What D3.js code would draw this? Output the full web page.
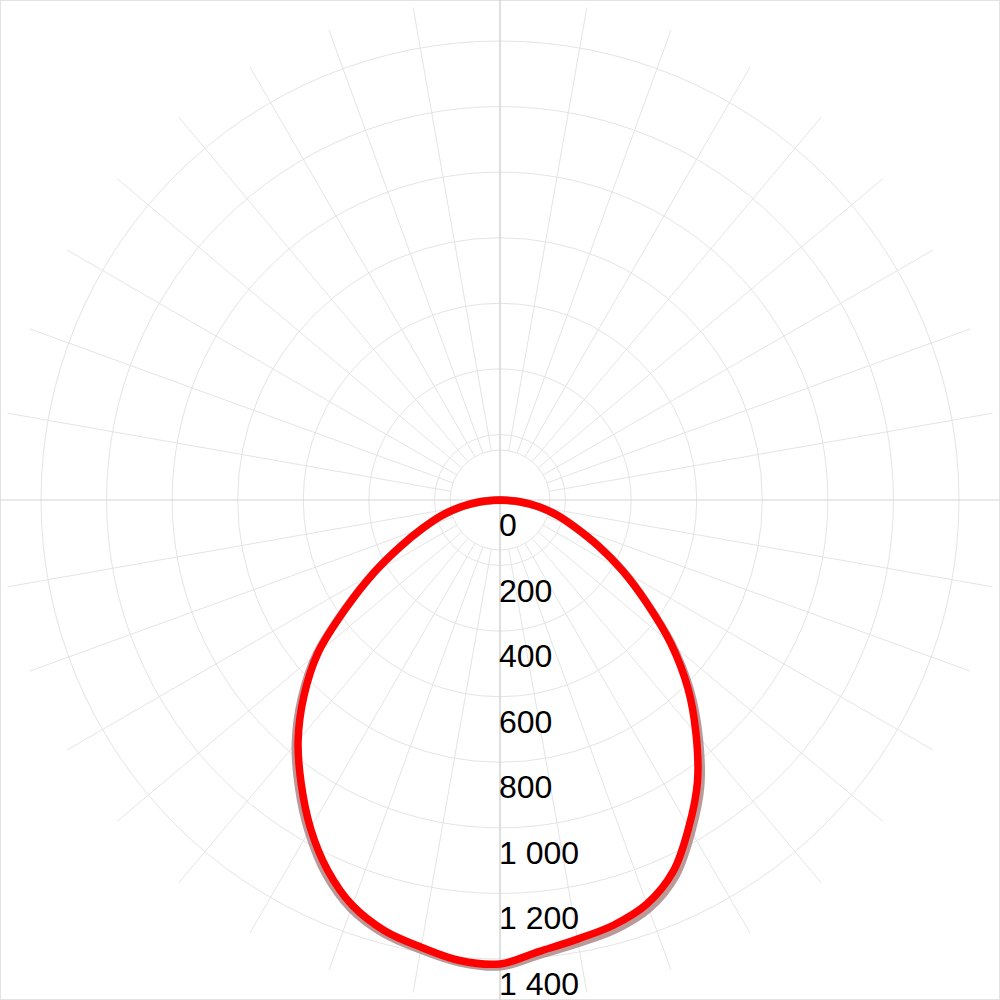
<!DOCTYPE html>
<html>
<head>
<meta charset="utf-8">
<script src="https://cdn.jsdelivr.net/npm/d3@7/dist/d3.min.js"></script>
<style>
  html, body { margin: 0; padding: 0; background: #fff; }
  svg { display: block; }
</style>
</head>
<body>
<svg id="chart" width="1000" height="1000"></svg>
<script>
// ---- data ----
// angle in degrees measured from the downward (nadir) direction, positive to the right
const angles = [-90,-85,-80,-75,-70,-65,-60,-55,-50,-45,-40,-35,-30,-25,-20,-15,-10,-5,0,5,10,15,20,25,30,35,40,45,50,55,60,65,70,75,80,85,90];
// main (red) series, intensity values
const redValues = [0,60,122,185,250,335,445,572,724,846,958,1057,1156,1245,1316,1360,1385,1410,1415,1382,1360,1342,1311,1250,1152,1050,930,810,680,545,432,330,245,182,122,60,0];
// secondary (grey) series
const greyValues = [0,60,122,185,250,335,445,575,730,856,970,1070,1168,1258,1327,1369,1393,1416,1423,1393,1373,1357,1327,1266,1168,1066,944,820,684,547,434,330,245,182,122,60,0];
// radial tick values and their labels
const radialTicks = [0,200,400,600,800,1000,1200,1400];
const radialTickLabels = ["0","200","400","600","800","1 000","1 200","1 400"];
// angular grid every 10 degrees
const gridAngles = d3.range(0, 360, 10);

// ---- layout ----
const W = 1000, H = 1000, cx = 500, cy = 500;
const svg = d3.select("#chart");

const r = d3.scaleLinear().domain([0, 1400]).range([0, 459]);
const innerHole = 50;
const spokeLen = 500;

// frame
svg.append("rect").attr("x", 0.5).attr("y", 0.5).attr("width", W - 1).attr("height", H - 1)
  .attr("fill", "#fff").attr("stroke", "#e2e2e2").attr("stroke-width", 1);

const g = svg.append("g").attr("transform", `translate(${cx},${cy})`);

// circles
g.append("g").selectAll("circle")
  .data(radialTicks.filter(d => d > 0))
  .join("circle")
  .attr("r", d => r(d))
  .attr("fill", "none")
  .attr("stroke", "#e4e4e4")
  .attr("stroke-width", 1);

g.append("circle").attr("r", innerHole).attr("fill", "none")
  .attr("stroke", "#e4e4e4").attr("stroke-width", 1);

// spokes (every 10 deg, from the inner hole outward); 0/90/180/270 drawn separately
g.append("g").selectAll("line")
  .data(gridAngles.filter(a => a % 90 !== 0))
  .join("line")
  .attr("x1", a => innerHole * Math.sin(a * Math.PI / 180))
  .attr("y1", a => -innerHole * Math.cos(a * Math.PI / 180))
  .attr("x2", a => spokeLen * Math.sin(a * Math.PI / 180))
  .attr("y2", a => -spokeLen * Math.cos(a * Math.PI / 180))
  .attr("stroke", "#e4e4e4")
  .attr("stroke-width", 1);

// main axes through the centre
g.append("line").attr("x1", -cx).attr("x2", W - cx).attr("y1", 0).attr("y2", 0)
  .attr("stroke", "#d4d4d4").attr("stroke-width", 1.2);
g.append("line").attr("y1", -cy).attr("y2", H - cy).attr("x1", 0).attr("x2", 0)
  .attr("stroke", "#d4d4d4").attr("stroke-width", 1.5);

// series
const toPts = vals => angles.map((a, i) => ({ a, v: vals[i] }));
const radial = d3.lineRadial()
  .angle(d => Math.PI - d.a * Math.PI / 180)
  .radius(d => r(d.v))
  .curve(d3.curveCatmullRom.alpha(0.5));

g.append("path").datum(toPts(greyValues))
  .attr("d", radial)
  .attr("fill", "none")
  .attr("stroke", "#a97f7f")
  .attr("stroke-opacity", 0.8)
  .attr("stroke-width", 8)
  .attr("stroke-linejoin", "round");

g.append("path").datum(toPts(redValues))
  .attr("d", radial)
  .attr("fill", "none")
  .attr("stroke", "#ff0000")
  .attr("stroke-width", 7.5)
  .attr("stroke-linejoin", "round")
  .attr("stroke-linecap", "round");

// radial labels, placed just below each circle on the downward axis
g.append("g").selectAll("text")
  .data(radialTicks)
  .join("text")
  .attr("x", -1)
  .attr("y", d => r(d) + 36)
  .attr("font-family", "'Liberation Sans', Arial, sans-serif")
  .attr("font-size", 32)
  .attr("fill", "#000")
  .text((d, i) => radialTickLabels[i]);
</script>
</body>
</html>
